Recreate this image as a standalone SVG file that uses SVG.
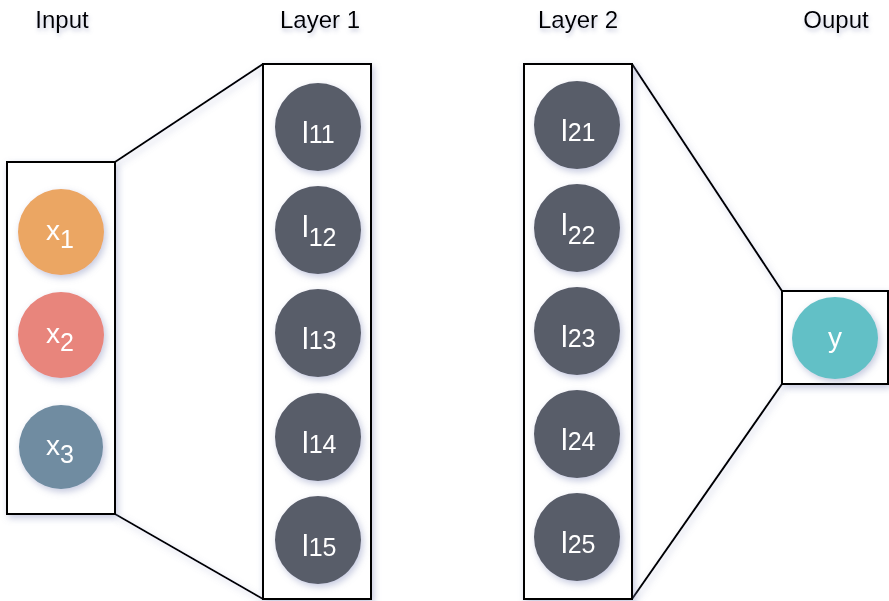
<svg xmlns="http://www.w3.org/2000/svg" width="889" height="601" viewBox="0 0 889 601">
<defs>
<filter id="sh" x="-20%" y="-20%" width="140%" height="140%">
<feDropShadow dx="2" dy="3" stdDeviation="3.5" flood-color="#7f86b8" flood-opacity="0.45"/>
</filter>
<filter id="tsh" x="-20%" y="-40%" width="140%" height="180%">
<feDropShadow dx="1" dy="3" stdDeviation="2" flood-color="#8088b0" flood-opacity="0.45"/>
</filter>
<style>
.box{fill:#fff;stroke:#000;stroke-width:2;filter:url(#sh)}
.conn{fill:none;stroke:#000;stroke-width:2;filter:url(#sh)}
.title{font-family:"Liberation Sans",Arial,sans-serif;font-size:24px;fill:#000;text-anchor:middle;filter:url(#tsh)}
.node{filter:url(#sh)}
.lbl{font-family:"Liberation Sans",Arial,sans-serif;fill:#fff;font-size:30px}
.sub{font-size:25px}
.dark{fill:#595d69}
</style>
</defs>
<g id="titles">
<text class="title" x="62" y="28">Input</text>
<text class="title" x="320" y="28">Layer 1</text>
<text class="title" x="578" y="28">Layer 2</text>
<text class="title" x="836" y="28">Ouput</text>
</g>
<g id="connectors">
<line class="conn" x1="115" y1="162" x2="263" y2="64"/>
<line class="conn" x1="115" y1="514" x2="263" y2="599"/>
<line class="conn" x1="632" y1="64" x2="782" y2="291"/>
<line class="conn" x1="632" y1="599" x2="782" y2="384"/>
</g>
<g id="input-box"><rect class="box" x="7" y="162" width="108" height="352"/></g>
<g id="layer1-box"><rect class="box" x="263" y="64" width="108" height="535"/></g>
<g id="layer2-box"><rect class="box" x="524" y="64" width="108" height="535"/></g>
<g id="middle"><line class="conn" x1="371" y1="64" x2="524" y2="64"/><line class="conn" x1="371" y1="599" x2="524" y2="599"/></g>
<g id="output-box"><rect class="box" x="782" y="291" width="106" height="93"/></g>

<g id="x1" class="node"><circle cx="61" cy="232" r="43" fill="#eba664"/><text class="lbl" x="46" y="240" style="font-size:28px">x<tspan class="sub" dy="8">1</tspan></text></g>
<g id="x2" class="node"><circle cx="61" cy="335" r="43" fill="#e8857c"/><text class="lbl" x="46" y="343" style="font-size:28px">x<tspan class="sub" dy="8">2</tspan></text></g>
<g id="x3" class="node"><circle cx="61" cy="447" r="42" fill="#6f8ca1"/><text class="lbl" x="46" y="455" style="font-size:28px">x<tspan class="sub" dy="8">3</tspan></text></g>

<g id="l11" class="node"><ellipse class="dark" cx="318" cy="127" rx="43" ry="44"/><text class="lbl" x="302" y="143">l<tspan class="sub">11</tspan></text></g>
<g id="l12" class="node"><ellipse class="dark" cx="318" cy="230" rx="43" ry="44"/><text class="lbl" x="302" y="237">l<tspan class="sub" dy="9">12</tspan></text></g>
<g id="l13" class="node"><ellipse class="dark" cx="318" cy="333" rx="43" ry="44"/><text class="lbl" x="302" y="349">l<tspan class="sub">13</tspan></text></g>
<g id="l14" class="node"><ellipse class="dark" cx="318" cy="437" rx="43" ry="44"/><text class="lbl" x="302" y="453">l<tspan class="sub">14</tspan></text></g>
<g id="l15" class="node"><ellipse class="dark" cx="318" cy="540" rx="43" ry="44"/><text class="lbl" x="302" y="556">l<tspan class="sub">15</tspan></text></g>

<g id="l21" class="node"><ellipse class="dark" cx="577" cy="125" rx="43" ry="44"/><text class="lbl" x="561" y="141">l<tspan class="sub">21</tspan></text></g>
<g id="l22" class="node"><ellipse class="dark" cx="577" cy="228" rx="43" ry="44"/><text class="lbl" x="561" y="235">l<tspan class="sub" dy="9">22</tspan></text></g>
<g id="l23" class="node"><ellipse class="dark" cx="577" cy="331" rx="43" ry="44"/><text class="lbl" x="561" y="347">l<tspan class="sub">23</tspan></text></g>
<g id="l24" class="node"><ellipse class="dark" cx="577" cy="434" rx="43" ry="44"/><text class="lbl" x="561" y="450">l<tspan class="sub">24</tspan></text></g>
<g id="l25" class="node"><ellipse class="dark" cx="577" cy="537" rx="43" ry="44"/><text class="lbl" x="561" y="553">l<tspan class="sub">25</tspan></text></g>

<g id="y" class="node"><ellipse cx="835" cy="338" rx="43" ry="41" fill="#62c0c6"/><text class="lbl" x="835" y="347" text-anchor="middle" style="font-size:28px">y</text></g>
</svg>
